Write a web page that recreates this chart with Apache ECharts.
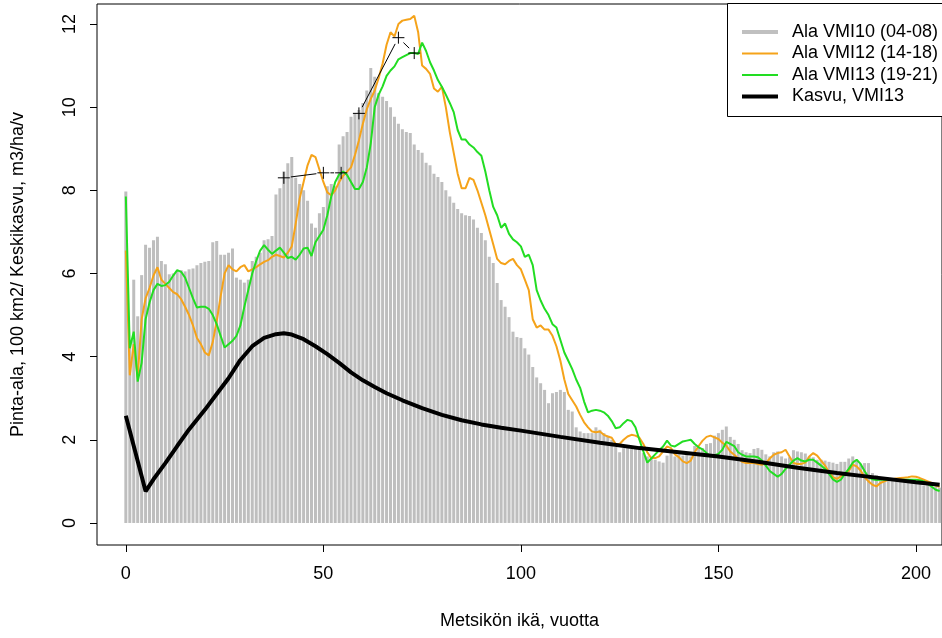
<!DOCTYPE html>
<html>
<head>
<meta charset="utf-8">
<script src="https://cdn.jsdelivr.net/npm/echarts@6.0.0/dist/echarts.min.js"></script>
<style>
html, body { margin: 0; padding: 0; background: #fff; }
#chart { width: 942px; height: 638px; }
</style>
</head>
<body>
<div id="chart"></div>
<script>
// metsikön ikä 0..206 vuotta
var ages = [];
for (var i = 0; i <= 206; i++) ages.push(i);

// Ala VMI10 (04-08), 100 km2
var ala10 = [
  7.97, 4.3, 5.85, 4.97, 5.96, 6.69, 6.62, 6.8, 6.88, 6.3,
  6.22, 5.98, 6.0, 6.05, 6.08, 6.05, 6.1, 6.12, 6.2, 6.25,
  6.28, 6.3, 6.75, 6.78, 6.45, 6.45, 6.5, 6.6, 5.9, 5.85,
  5.78, 5.85, 6.3, 6.4, 6.5, 6.8, 6.82, 6.9, 7.9, 8.05,
  8.45, 8.65, 8.8, 8.3, 8.15, 8.0, 7.75, 7.2, 7.1, 7.45,
  7.6, 8.1, 8.15, 8.1, 9.1, 9.3, 9.4, 9.77, 9.85, 9.93,
  10.1, 10.4, 10.94, 10.73, 10.34, 10.25, 10.15, 10.0, 9.77, 9.6,
  9.47, 9.4, 9.38, 9.1, 8.97, 8.9, 8.66, 8.6, 8.4, 8.32,
  8.2, 8.0, 7.85, 7.7, 7.55, 7.45, 7.4, 7.38, 7.3, 7.1,
  6.97, 6.8, 6.4, 6.25, 5.77, 5.36, 5.2, 4.95, 4.6, 4.47,
  4.45, 4.2, 4.05, 3.75, 3.5, 3.36, 3.2, 2.88, 3.12, 3.15,
  3.2, 3.15, 2.72, 2.68, 2.3, 2.2, 2.16, 2.16, 2.16, 2.3,
  2.24, 2.16, 2.1, 2.0, 1.83, 1.7, 1.8, 1.83, 1.78, 1.8,
  1.76, 1.68, 1.6, 1.55, 1.52, 1.48, 1.45, 1.62, 1.68, 1.6,
  1.65, 1.62, 1.68, 1.6, 1.85, 1.83, 1.8, 1.9, 1.92, 2.1,
  2.16, 2.24, 2.32, 2.07, 2.0, 1.9, 1.75, 1.7, 1.68, 1.78,
  1.8, 1.76, 1.65, 1.6, 1.7, 1.72, 1.6, 1.55, 1.58, 1.75,
  1.72, 1.7, 1.67, 1.6, 1.58, 1.52, 1.52, 1.5, 1.47, 1.45,
  1.42, 1.47, 1.47, 1.55, 1.6, 1.52, 1.42, 1.44, 1.44, 1.2,
  1.15, 1.1, 1.1, 1.05, 1.05, 1.03, 1.1, 1.05, 1.0, 1.0,
  0.96, 0.95, 0.9, 0.92, 0.88, 0.87, 0.85
];

// Ala VMI12 (14-18)
var ala12 = [
  6.55, 3.55, 4.3, 3.5, 4.9, 5.4, 5.65, 5.95, 6.15, 5.85,
  5.75, 5.65, 5.55, 5.5, 5.38, 5.2, 5.0, 4.75, 4.45, 4.3,
  4.1, 4.03, 4.35, 4.85, 5.45, 6.0, 6.2, 6.1, 6.05, 6.15,
  6.2, 6.05, 6.1, 6.15, 6.22, 6.28, 6.32, 6.4, 6.45, 6.42,
  6.38, 6.5, 6.65, 7.2, 7.8, 8.2, 8.6, 8.85, 8.8, 8.5,
  8.2, 7.95, 7.88, 8.0, 8.2, 8.35, 8.45, 8.55, 8.85, 9.2,
  9.6, 9.95, 10.2, 10.4, 10.7, 11.05, 11.5, 11.8, 11.7, 12.0,
  12.08, 12.1, 12.12, 12.2, 11.8, 11.0, 10.92, 10.8, 10.45, 10.37,
  10.49, 10.0, 9.4, 8.9, 8.4, 8.05, 8.05, 8.3, 8.25, 8.0,
  7.7, 7.4, 7.05, 6.7, 6.35, 6.25, 6.22, 6.3, 6.35, 6.2,
  6.1, 5.85, 5.6, 4.9, 4.7, 4.75, 4.65, 4.65, 4.5, 4.25,
  3.9, 3.45, 3.1, 2.95, 2.8, 2.6, 2.42, 2.3, 2.2, 2.18,
  2.2, 2.12, 2.08, 2.05, 1.9, 1.9, 2.0, 2.08, 2.12, 2.1,
  2.05, 1.9, 1.7, 1.56, 1.56, 1.6, 1.72, 1.84, 1.8, 1.65,
  1.58, 1.48, 1.44, 1.5, 1.7, 1.85, 1.98, 2.07, 2.1, 2.06,
  2.02, 1.93, 1.86, 1.72, 1.64, 1.55, 1.47, 1.44, 1.44, 1.44,
  1.42, 1.4, 1.44, 1.55, 1.64, 1.68, 1.7, 1.76, 1.6, 1.44,
  1.42, 1.42, 1.45, 1.6, 1.68, 1.62, 1.5, 1.38, 1.22, 1.1,
  1.06, 1.12, 1.18, 1.25, 1.4, 1.36, 1.26, 1.1, 1.0, 0.92,
  0.88, 0.96, 1.0, 1.04, 1.05, 1.07, 1.08, 1.09, 1.1, 1.12,
  1.11, 1.08, 1.04, 1.0, 0.96, 0.9, 0.87
];

// Ala VMI13 (19-21)
var ala13 = [
  7.85, 4.2, 4.6, 3.4, 3.85, 4.9, 5.3, 5.6, 5.75, 5.7,
  5.72, 5.8, 5.95, 6.08, 6.04, 5.9, 5.65, 5.4, 5.18, 5.2,
  5.2, 5.15, 5.0, 4.78, 4.5, 4.22, 4.3, 4.38, 4.5, 4.75,
  5.2, 5.6, 6.0, 6.3, 6.55, 6.68, 6.57, 6.47, 6.55, 6.62,
  6.5, 6.37, 6.4, 6.33, 6.45, 6.6, 6.62, 6.42, 6.75, 6.9,
  7.05, 7.4, 7.85, 8.2, 8.38, 8.45, 8.37, 8.2, 8.03, 8.03,
  8.2, 8.55, 9.13, 10.0, 10.3, 10.5, 10.75, 10.88, 10.98, 11.15,
  11.2, 11.25, 11.3, 11.3, 11.28, 11.55, 11.35, 11.08, 10.88, 10.65,
  10.49, 10.3, 10.1, 9.88, 9.45, 9.22, 9.22, 9.1, 9.03, 8.92,
  8.83, 8.45, 8.0, 7.6, 7.4, 7.1, 7.2, 6.95, 6.82, 6.75,
  6.65, 6.4, 6.45, 6.2, 5.6, 5.35, 5.15, 5.0, 4.78, 4.7,
  4.4, 4.1, 3.9, 3.7, 3.45, 3.25, 2.92, 2.66, 2.7, 2.72,
  2.7, 2.66, 2.58, 2.45, 2.28, 2.3, 2.4, 2.48, 2.45, 2.3,
  2.0, 1.72, 1.45, 1.55, 1.65, 1.75, 1.84, 1.98, 1.86, 1.84,
  1.9, 1.96, 1.98, 2.0, 1.9, 1.82, 1.77, 1.68, 1.6, 1.63,
  1.66, 1.76, 1.95, 1.9, 1.85, 1.7, 1.64, 1.6, 1.6, 1.6,
  1.58, 1.5, 1.38, 1.25, 1.18, 1.11, 1.18, 1.3, 1.4, 1.5,
  1.56, 1.5, 1.48, 1.52, 1.52, 1.45, 1.38, 1.3, 1.18, 1.05,
  0.99, 1.04, 1.18, 1.3, 1.45, 1.52, 1.42, 1.25, 1.1, 1.05,
  1.03, 1.04, 1.04, 1.04, 1.04, 1.03, 1.03, 1.04, 1.04, 1.04,
  1.04, 1.03, 1.0, 0.94, 0.87, 0.8, 0.77
];

// Kasvu, VMI13 (m3/ha/v)
var kasvuAge = [0, 5, 7, 10, 13, 16, 20, 23, 26, 29, 32, 35, 38, 40, 42, 45, 48, 51, 54, 57,
  60, 63, 66, 70, 75, 80, 85, 90, 95, 100, 110, 120, 130, 140, 150, 160, 170, 180, 190, 200, 206];
var kasvu = [2.58, 0.76, 1.05, 1.44, 1.85, 2.25, 2.72, 3.1, 3.48, 3.92, 4.25, 4.45, 4.54, 4.56, 4.53, 4.42, 4.25, 4.06, 3.85, 3.62,
  3.43, 3.27, 3.12, 2.95, 2.76, 2.6, 2.47, 2.37, 2.29, 2.22, 2.07, 1.93, 1.8, 1.7, 1.6, 1.47, 1.33, 1.2, 1.09, 0.98, 0.92];

// + merkit
var markAgeA = [40, 50, 54.5];
var markValA = [8.3, 8.42, 8.42];
var markAgeB = [59, 69, 73];
var markValB = [9.85, 11.67, 11.3];

var xTicks = [0, 50, 100, 150, 200];
var yTicks = [0, 2, 4, 6, 8, 10, 12];

var legendLabels = ['Ala VMI10 (04-08)', 'Ala VMI12 (14-18)', 'Ala VMI13 (19-21)', 'Kasvu, VMI13'];
var legendColors = ['#c0c0c0', '#f5a31a', '#22dd22', '#000000'];
var legendWidths = [4, 2, 2, 4];

var font = 'Liberation Sans, Arial, sans-serif';
var fsize = 18;

function pairs(xs, ys) {
    var out = [];
    for (var i = 0; i < xs.length; i++) out.push([xs[i], ys[i]]);
    return out;
}

function markerSeries(xs, ys) {
    var data = [];
    for (var i = 0; i < xs.length; i++) {
        var last = i == xs.length - 1;
        data.push([xs[i], ys[i], last ? NaN : xs[i + 1], last ? NaN : ys[i + 1]]);
    }
    return {
        type: 'custom',
        data: data,
        z: 10,
        silent: true,
        encode: { x: 0, y: 1 },
        renderItem: function (params, api) {
            var p = api.coord([api.value(0), api.value(1)]);
            var s = 6;
            var st = { stroke: '#000', lineWidth: 1 };
            var children = [
                { type: 'line', shape: { x1: p[0] - s, y1: p[1], x2: p[0] + s, y2: p[1] }, style: st },
                { type: 'line', shape: { x1: p[0], y1: p[1] - s, x2: p[0], y2: p[1] + s }, style: st }
            ];
            var nx = api.value(2);
            if (!isNaN(nx)) {
                var q = api.coord([nx, api.value(3)]);
                var dx = q[0] - p[0], dy = q[1] - p[1];
                var d = Math.sqrt(dx * dx + dy * dy), g = 7;
                if (d > 2 * g) {
                    children.push({ type: 'line', shape: {
                        x1: p[0] + dx / d * g, y1: p[1] + dy / d * g,
                        x2: q[0] - dx / d * g, y2: q[1] - dy / d * g }, style: st });
                }
            }
            return { type: 'group', children: children };
        }
    };
}

// legend drawn by hand, like R's legend()
var rowY = [32, 53.5, 75, 96.5];
var legendGraphic = [{
    type: 'rect', z: 100,
    shape: { x: 727.5, y: 3.5, width: 220, height: 113 },
    style: { fill: '#fff', stroke: '#000', lineWidth: 1 }
}];
for (var k = 0; k < legendLabels.length; k++) {
    legendGraphic.push({
        type: 'line', z: 101,
        shape: { x1: 742, y1: rowY[k], x2: 778, y2: rowY[k] },
        style: { stroke: legendColors[k], lineWidth: legendWidths[k] }
    });
    legendGraphic.push({
        type: 'text', z: 101, x: 792, y: rowY[k],
        style: { text: legendLabels[k], fill: '#000', font: fsize + 'px ' + font, verticalAlign: 'middle' }
    });
}

var option = {
    animation: false,
    backgroundColor: '#fff',
    textStyle: { fontFamily: font },
    grid: { left: 97, top: 4, right: -3, bottom: 93, show: true, borderColor: '#000', borderWidth: 1 },
    xAxis: {
        type: 'value', min: -7.3, max: 206.6,
        splitLine: { show: false },
        axisLine: { show: false, onZero: false },
        axisTick: { show: true, length: 7, customValues: xTicks, lineStyle: { color: '#000' } },
        axisLabel: { customValues: xTicks, margin: 20, fontSize: fsize, color: '#000', fontFamily: font },
        name: 'Metsikön ikä, vuotta', nameLocation: 'middle', nameGap: 67,
        nameTextStyle: { fontSize: fsize, color: '#000', fontFamily: font }
    },
    yAxis: {
        type: 'value', min: -0.53, max: 12.48,
        splitLine: { show: false },
        axisLine: { show: false, onZero: false },
        axisTick: { show: true, length: 7, customValues: yTicks, lineStyle: { color: '#000' } },
        axisLabel: { customValues: yTicks, rotate: 90, margin: 18, fontSize: fsize, color: '#000', fontFamily: font },
        name: 'Pinta-ala, 100 km2/ Keskikasvu, m3/ha/v', nameLocation: 'middle', nameGap: 70,
        nameTextStyle: { fontSize: fsize, color: '#000', fontFamily: font }
    },
    graphic: legendGraphic,
    series: [
        { name: legendLabels[0], type: 'bar', data: pairs(ages, ala10), barWidth: 3,
          itemStyle: { color: '#bebebe' }, silent: true },
        { name: legendLabels[1], type: 'line', data: pairs(ages, ala12), showSymbol: false,
          lineStyle: { color: legendColors[1], width: 2 }, silent: true },
        { name: legendLabels[2], type: 'line', data: pairs(ages, ala13), showSymbol: false,
          lineStyle: { color: legendColors[2], width: 2 }, silent: true },
        { name: legendLabels[3], type: 'line', data: pairs(kasvuAge, kasvu), showSymbol: false,
          lineStyle: { color: '#000', width: 4 }, silent: true },
        markerSeries(markAgeA, markValA),
        markerSeries(markAgeB, markValB)
    ]
};

var chart = echarts.init(document.getElementById('chart'), null, { renderer: 'canvas' });
chart.setOption(option);
</script>
</body>
</html>
